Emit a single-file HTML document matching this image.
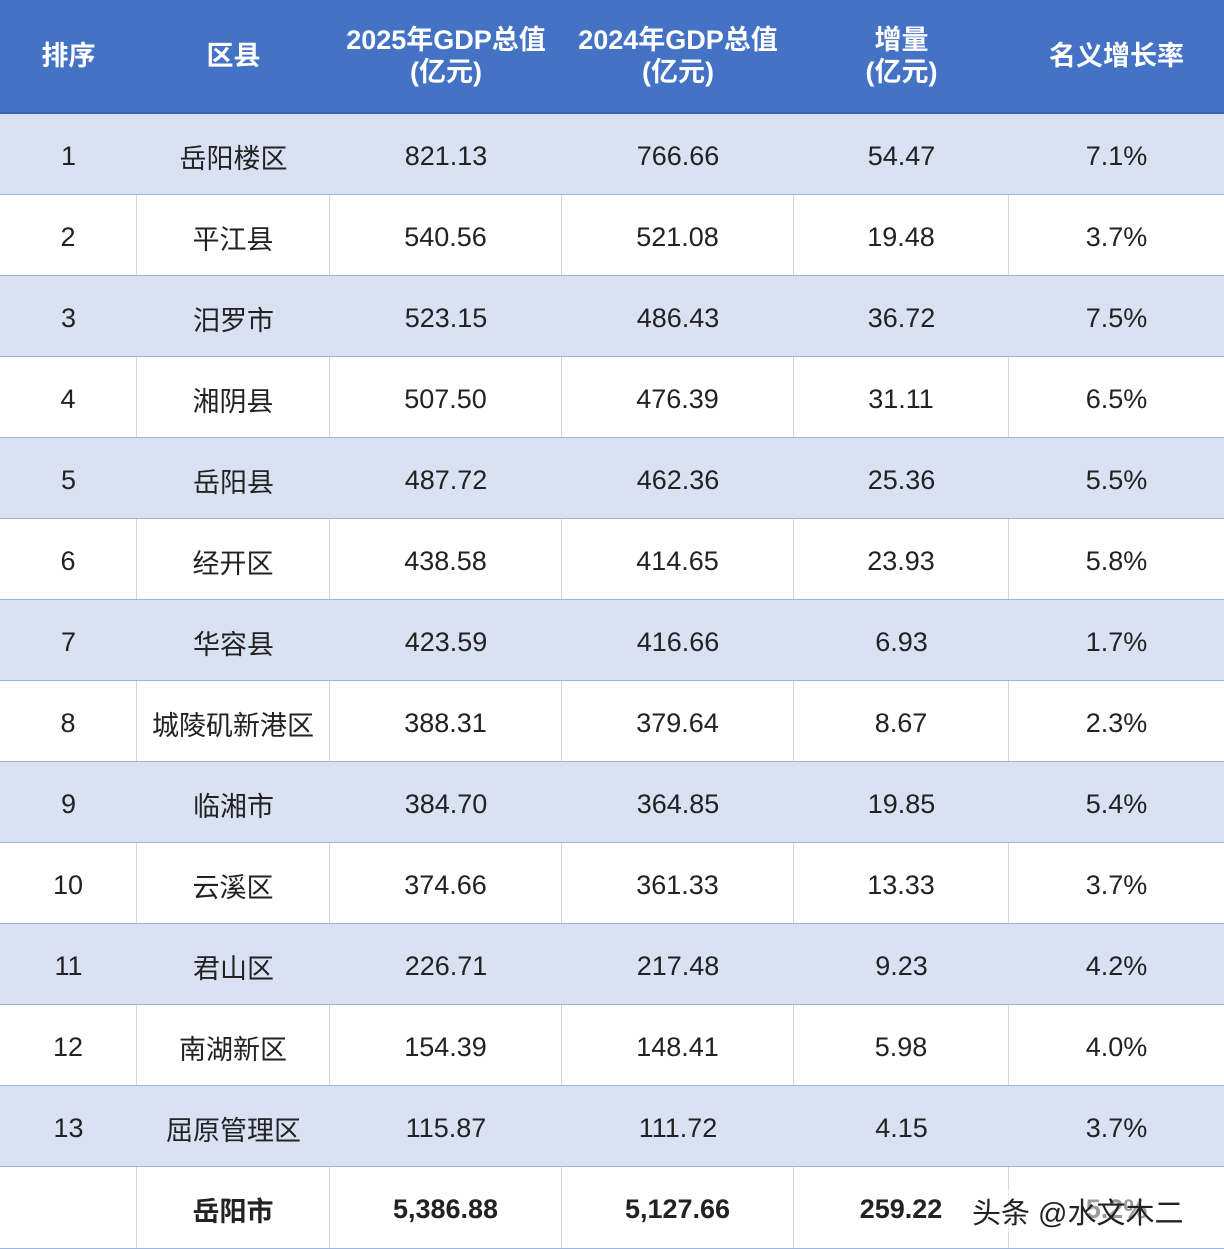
<!DOCTYPE html>
<html><head><meta charset="utf-8">
<style>
body{margin:0;width:1224px;height:1249px;overflow:hidden;background:#fff;font-family:"Liberation Sans","Noto Sans CJK SC",sans-serif;}
#t{position:absolute;left:0;top:0;width:1224px;height:1249px;}
.r{position:absolute;left:0;width:1224px;display:flex;box-sizing:border-box;border-bottom:1px solid #9bb3df;}
.c{box-sizing:border-box;display:flex;align-items:center;justify-content:center;text-align:center;font-size:27px;color:#222;border-right:1px solid #d6d6d6;padding-top:4px;}
.c:last-child{border-right:none}
.h .c{color:#fff;font-weight:bold;font-size:27px;line-height:32px;border-right:none;padding-top:0}
.h{background:#4472c4;border-bottom:2px solid #3a62ab}
.odd{background:#d9e1f2}
.odd .c{border-right:none}
.tot .c{font-weight:bold}
#wm{position:absolute;left:972px;top:1190px;font-size:29px;color:#222;background:rgba(255,255,255,0.55);}
</style></head><body>
<div id="t"></div>
<div id="wm">头条 @水文木二</div>
<script>
const widths=[137,193,232,232,215,215];
const headers=["排序","区县","2025年GDP总值<br>(亿元)","2024年GDP总值<br>(亿元)","增量<br>(亿元)","名义增长率"];
const districts=["岳阳楼区","平江县","汨罗市","湘阴县","岳阳县","经开区","华容县","城陵矶新港区","临湘市","云溪区","君山区","南湖新区","屈原管理区"];
const gdp2025=["821.13","540.56","523.15","507.50","487.72","438.58","423.59","388.31","384.70","374.66","226.71","154.39","115.87"];
const gdp2024=["766.66","521.08","486.43","476.39","462.36","414.65","416.66","379.64","364.85","361.33","217.48","148.41","111.72"];
const increase=["54.47","19.48","36.72","31.11","25.36","23.93","6.93","8.67","19.85","13.33","9.23","5.98","4.15"];
const growth=["7.1%","3.7%","7.5%","6.5%","5.5%","5.8%","1.7%","2.3%","5.4%","3.7%","4.2%","4.0%","3.7%"];
const total=["","岳阳市","5,386.88","5,127.66","259.22","5.2%"];
const t=document.getElementById('t');
function row(cells,top,h,cls,name){
  const r=document.createElement('div');
  r.className='r '+cls;
  r.style.top=top+'px';r.style.height=h+'px';
  
  
  cells.forEach((v,i)=>{
    const c=document.createElement('div');
    c.className='c';c.style.width=widths[i]+'px';
    c.innerHTML=v;
    
    
    r.appendChild(c);
  });
  t.appendChild(r);
}
row(headers,0,114,'h','header-row');
districts.forEach((d,i)=>{
  row([String(i+1),d,gdp2025[i],gdp2024[i],increase[i],growth[i]],114+i*81,81,i%2===0?'odd':'even','data-row');
});
row(total,1167,82,'tot','total-row');
</script>
</body></html>
